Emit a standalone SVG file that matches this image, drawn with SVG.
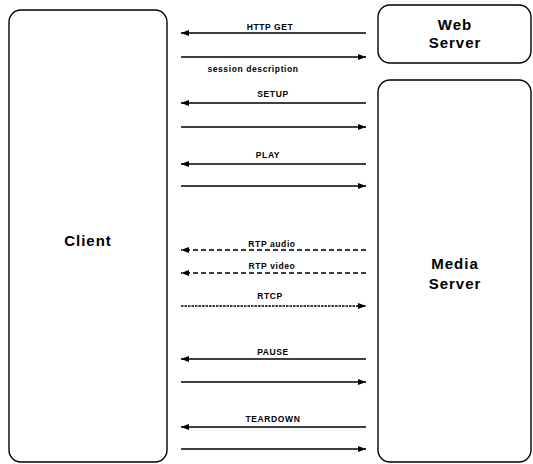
<svg xmlns="http://www.w3.org/2000/svg" width="533" height="464" viewBox="0 0 533 464">
<defs>
<style>
.box{fill:#fff;stroke:#000;stroke-width:1.4}
.name{font-family:"Liberation Sans",Arial,sans-serif;font-weight:bold;font-size:15px;letter-spacing:1px;text-anchor:middle;fill:#000}
.lbl{font-family:"Liberation Sans",Arial,sans-serif;font-weight:bold;font-size:8.5px;letter-spacing:0.6px;text-anchor:middle;fill:#000}
.ln{stroke:#000;stroke-width:1.3;fill:none}
.d1{stroke-dasharray:5 3}
.d2{stroke-dasharray:2.5 1}
</style>
<marker id="ah" viewBox="0 0 8 6" refX="8" refY="3" markerWidth="8" markerHeight="6" markerUnits="userSpaceOnUse" orient="auto">
<path d="M0,0 L8,3 L0,6 Z" fill="#000"/>
</marker>
</defs>
<rect width="533" height="464" fill="#fff"/>
<g id="client">
<rect class="box" x="9" y="10" width="158" height="452" rx="12"/>
<text class="name" x="88" y="246">Client</text>
</g>
<g id="webserver">
<rect class="box" x="378" y="5" width="153" height="58" rx="12"/>
<text class="name" x="455" y="30">Web</text>
<text class="name" x="455" y="48">Server</text>
</g>
<g id="mediaserver">
<rect class="box" x="378" y="80" width="153" height="382" rx="12"/>
<text class="name" x="455" y="269">Media</text>
<text class="name" x="455" y="289">Server</text>
</g>
<g id="connectors">
<line class="ln" x1="366" y1="33" x2="181" y2="33" marker-end="url(#ah)"/>
<line class="ln" x1="181" y1="57" x2="366" y2="57" marker-end="url(#ah)"/>
<line class="ln" x1="366" y1="103" x2="181" y2="103" marker-end="url(#ah)"/>
<line class="ln" x1="181" y1="127" x2="366" y2="127" marker-end="url(#ah)"/>
<line class="ln" x1="366" y1="164" x2="181" y2="164" marker-end="url(#ah)"/>
<line class="ln" x1="181" y1="186" x2="366" y2="186" marker-end="url(#ah)"/>
<line class="ln d1" x1="366" y1="250" x2="181" y2="250" marker-end="url(#ah)"/>
<line class="ln d1" x1="366" y1="273" x2="181" y2="273" marker-end="url(#ah)"/>
<line class="ln d2" x1="181" y1="306" x2="366" y2="306" marker-end="url(#ah)"/>
<line class="ln" x1="366" y1="359" x2="181" y2="359" marker-end="url(#ah)"/>
<line class="ln" x1="181" y1="382" x2="366" y2="382" marker-end="url(#ah)"/>
<line class="ln" x1="366" y1="427" x2="181" y2="427" marker-end="url(#ah)"/>
<line class="ln" x1="181" y1="449" x2="366" y2="449" marker-end="url(#ah)"/>
<text class="lbl" x="270" y="30">HTTP GET</text>
<text class="lbl" x="253" y="72">session description</text>
<text class="lbl" x="273" y="97">SETUP</text>
<text class="lbl" x="268" y="158">PLAY</text>
<text class="lbl" x="272" y="247">RTP audio</text>
<text class="lbl" x="272" y="269">RTP video</text>
<text class="lbl" x="270" y="299">RTCP</text>
<text class="lbl" x="273" y="355">PAUSE</text>
<text class="lbl" x="273" y="422">TEARDOWN</text>
</g>
</svg>
